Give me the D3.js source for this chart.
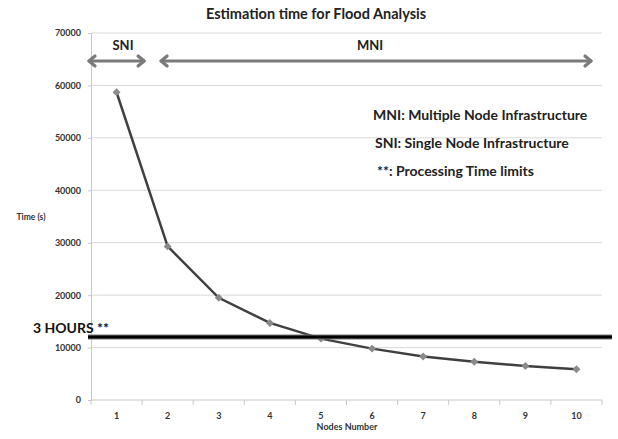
<!DOCTYPE html>
<html>
<head>
<meta charset="utf-8">
<script src="https://cdn.jsdelivr.net/npm/d3@7"></script>
<style>
  body { margin: 0; background: #fff; }
  text { font-family: Lato, "Open Sans", sans-serif; }
</style>
</head>
<body>
<div id="chart"></div>
<script>
const nodes = [1, 2, 3, 4, 5, 6, 7, 8, 9, 10];
const timeSeconds = [58700, 29300, 19500, 14700, 11700, 9800, 8300, 7300, 6500, 5850];
const yTicks = [0, 10000, 20000, 30000, 40000, 50000, 60000, 70000];
const limitSeconds = 12000;
const limitLabel = "3 HOURS **";
const notes = ["MNI: Multiple Node Infrastructure", "SNI: Single Node Infrastructure", "**: Processing Time limits"];

const width = 618, height = 439;
const MARGIN = { top: 33, right: 16, bottom: 39, left: 91 };

const svg = d3.select("#chart").append("svg")
	.attr("width", width)
	.attr("height", height);

const x = d3.scaleBand()
	.domain(nodes)
	.range([MARGIN.left, width - MARGIN.right]);

const y = d3.scaleLinear()
	.domain([0, 70000])
	.range([height - MARGIN.bottom, MARGIN.top]);

// title
svg.append("text")
	.attr("x", 316)
	.attr("y", 19)
	.attr("text-anchor", "middle")
	.attr("font-size", "14.5px")
	.attr("font-weight", "bold")
	.attr("fill", "#222")
	.text("Estimation time for Flood Analysis");

// grid
svg.append("g")
	.selectAll("line")
	.data(yTicks.filter(d => d > 0))
	.join("line")
	.attr("x1", MARGIN.left)
	.attr("x2", width - MARGIN.right)
	.attr("y1", d => y(d))
	.attr("y2", d => y(d))
	.attr("stroke", "#d9d9d9");

// y axis
const yAxis = d3.axisLeft(y)
	.tickValues(yTicks)
	.tickFormat(d3.format("d"))
	.tickSizeInner(3)
	.tickSizeOuter(0)
	.tickPadding(7);
const yAxisGroup = svg.append("g")
	.attr("transform", `translate(${MARGIN.left},0)`)
	.call(yAxis);
yAxisGroup.select(".domain").attr("stroke", "#c8c8c8");
yAxisGroup.selectAll(".tick line").attr("stroke", "#c8c8c8");
yAxisGroup.selectAll(".tick text")
	.attr("font-family", "Lato, sans-serif")
	.attr("font-size", "9px")
	.attr("font-weight", "bold")
	.attr("fill", "#333");

// x axis: ticks between categories
const xAxisGroup = svg.append("g")
	.attr("transform", `translate(0,${y(0)})`);
xAxisGroup.append("line")
	.attr("x1", MARGIN.left)
	.attr("x2", width - MARGIN.right)
	.attr("stroke", "#c8c8c8");
xAxisGroup.selectAll(".tk")
	.data(nodes.map(d => x(d)).concat([x(nodes[nodes.length - 1]) + x.bandwidth()]))
	.join("line")
	.attr("class", "tk")
	.attr("x1", d => d)
	.attr("x2", d => d)
	.attr("y1", 0)
	.attr("y2", 5)
	.attr("stroke", "#c8c8c8");
xAxisGroup.selectAll(".lbl")
	.data(nodes)
	.join("text")
	.attr("class", "lbl")
	.attr("x", d => x(d) + x.bandwidth() / 2)
	.attr("y", 19)
	.attr("text-anchor", "middle")
	.attr("font-size", "9px")
	.attr("font-weight", "bold")
	.attr("fill", "#333")
	.text(d => d);

// axis titles
svg.append("text")
	.attr("x", 347)
	.attr("y", 430)
	.attr("text-anchor", "middle")
	.attr("font-size", "9px")
	.attr("font-weight", "bold")
	.attr("fill", "#333")
	.text("Nodes Number");

svg.append("text")
	.attr("x", 31)
	.attr("y", 220)
	.attr("text-anchor", "middle")
	.attr("font-size", "8.5px")
	.attr("font-weight", "bold")
	.attr("fill", "#333")
	.text("Time (s)");

// series line
const cx = d => x(d) + x.bandwidth() / 2;
const points = nodes.map((n, i) => ({ n, v: timeSeconds[i] }));

svg.append("path")
	.datum(points)
	.attr("fill", "none")
	.attr("stroke", "#404040")
	.attr("stroke-width", 2.5)
	.attr("d", d3.line()
		.x(d => cx(d.n))
		.y(d => y(d.v)));

svg.append("g")
	.selectAll("path")
	.data(points)
	.join("path")
	.attr("transform", d => `translate(${cx(d.n)},${y(d.v)})`)
	.attr("d", d3.symbol(d3.symbolDiamond2, 40))
	.attr("fill", "#8a8a8a");

// threshold line
svg.append("line")
	.attr("x1", MARGIN.left - 3)
	.attr("x2", width - 6)
	.attr("y1", y(limitSeconds))
	.attr("y2", y(limitSeconds))
	.attr("stroke", "#777")
	.attr("stroke-width", 5);
svg.append("line")
	.attr("x1", MARGIN.left - 3)
	.attr("x2", width - 6)
	.attr("y1", y(limitSeconds))
	.attr("y2", y(limitSeconds))
	.attr("stroke", "#000")
	.attr("stroke-width", 3);

svg.append("text")
	.attr("x", 33)
	.attr("y", y(limitSeconds) - 4)
	.attr("font-size", "14px")
	.attr("font-weight", "bold")
	.attr("fill", "#111")
	.text(limitLabel);

// range arrows
function arrow(x1, x2, yy) {
	const g = svg.append("g").attr("stroke", "#7a7a7a").attr("fill", "none")
		.attr("stroke-width", 3.2).attr("stroke-linecap", "round").attr("stroke-linejoin", "round");
	g.append("line").attr("x1", x1 + 1).attr("x2", x2 - 1).attr("y1", yy).attr("y2", yy);
	g.append("path").attr("d", `M${x1 + 7},${yy - 5}L${x1 + 1},${yy}L${x1 + 7},${yy + 5}`);
	g.append("path").attr("d", `M${x2 - 7},${yy - 5}L${x2 - 1},${yy}L${x2 - 7},${yy + 5}`);
}
const arrowY = 61;
arrow(x(1) - 3, x(1) + x.bandwidth() + 3, arrowY);
arrow(x(2) + 18, x(10) + x.bandwidth() - 10, arrowY);

svg.append("text")
	.attr("x", 123)
	.attr("y", 50)
	.attr("text-anchor", "middle")
	.attr("font-size", "13px")
	.attr("font-weight", "bold")
	.attr("fill", "#222")
	.text("SNI");

svg.append("text")
	.attr("x", 370)
	.attr("y", 50)
	.attr("text-anchor", "middle")
	.attr("font-size", "13px")
	.attr("font-weight", "bold")
	.attr("fill", "#222")
	.text("MNI");

// notes
svg.append("g")
	.selectAll("text")
	.data(notes)
	.join("text")
	.attr("x", (d, i) => [373, 375, 377][i])
	.attr("y", (d, i) => 120 + i * 28)
	.attr("font-size", "14px")
	.attr("font-weight", "bold")
	.attr("fill", "#222")
	.text(d => d);
</script>
</body>
</html>
